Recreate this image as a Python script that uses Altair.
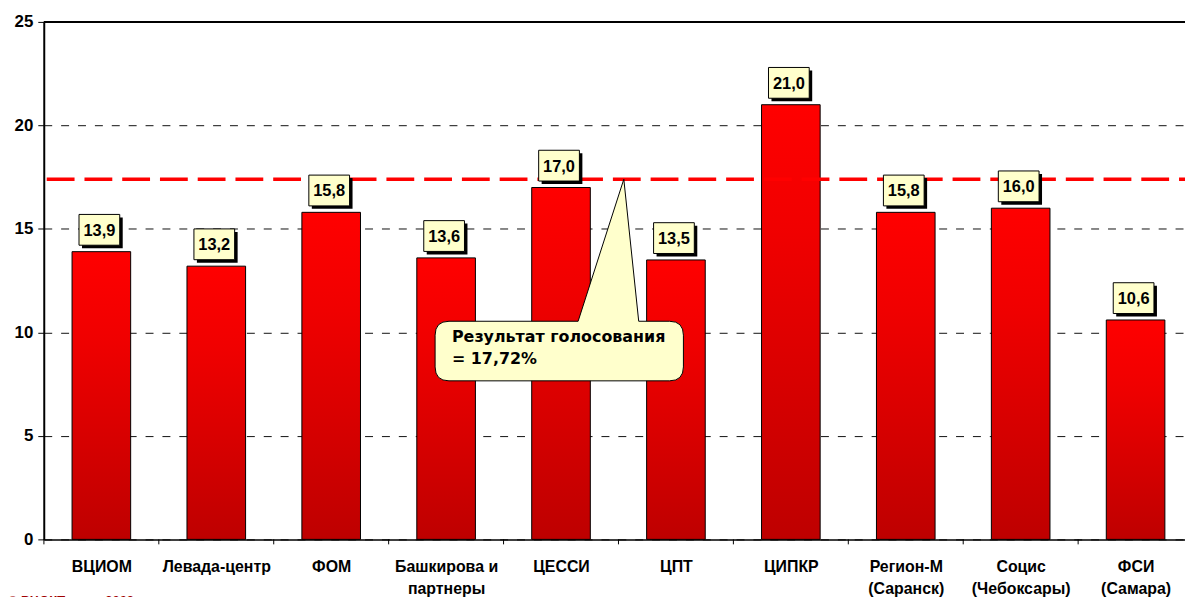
import altair as alt
import pandas as pd

categories = ["ВЦИОМ", "Левада-центр", "ФОМ", "Башкирова и\nпартнеры", "ЦЕССИ",
              "ЦПТ", "ЦИПКР", "Регион-М\n(Саранск)", "Социс\n(Чебоксары)", "ФСИ\n(Самара)"]
values = [13.9, 13.2, 15.8, 13.6, 17.0, 13.5, 21.0, 15.8, 16.0, 10.6]
value_labels = ["13,9", "13,2", "15,8", "13,6", "17,0", "13,5", "21,0", "15,8", "16,0", "10,6"]
y_ticks = [0, 5, 10, 15, 20, 25]
vote_line = [17.4]
callout_text = ["Результат голосования", "= 17,72%"]
footer_text = ["© РЦОКТ, март 2003"]

idx = list(range(len(categories)))
df = pd.DataFrame({"idx": idx, "value": values, "label": value_labels})
bounds_df = pd.DataFrame({"b": [i - 0.5 for i in idx] + [len(idx) - 0.5]})
line_df = pd.DataFrame({"v": vote_line})
foot_df = pd.DataFrame({"t": footer_text})

FONT = "Liberation Sans"
W = 1149
H = 521
# category slots are a little wider than W/10 (the last slot runs past the window edge)
X_DOMAIN = [-0.5013, 9.430]
HALF_BAR = 0.255

cat_js = "[" + ",".join("'" + c.replace("\n", "\\n") + "'" for c in categories) + "]"

x_scale = alt.Scale(domain=X_DOMAIN, nice=False, zero=False, padding=0)
x_axis = alt.Axis(title=None, values=idx, labelAngle=0,
                  labelExpr="split(" + cat_js + "[datum.value], '\\n')",
                  labelFont=FONT, labelFontSize=16, labelFontWeight="bold", labelColor="black",
                  labelPadding=19, labelLineHeight=22, labelBaseline="top",
                  labelOverlap=False, labelFlush=False, labelBound=False, labelLimit=300,
                  ticks=False, domainColor="black", domainWidth=1.5, grid=False)
x_enc = alt.X("idx:Q", scale=x_scale, axis=x_axis)
y_scale = alt.Scale(domain=[0, 25], nice=False, zero=True, padding=0)
y_enc = alt.Y(
    "value:Q", scale=y_scale,
    axis=alt.Axis(title=None, values=y_ticks, labelFont=FONT, labelFontSize=17,
                  labelFontWeight="bold", labelColor="black", labelPadding=5,
                  tickSize=6, tickColor="black", domainColor="black", domainWidth=2,
                  grid=True, gridDash=[8, 9], gridColor="#111111", gridWidth=1),
)

base = alt.Chart(df)

bars = base.transform_calculate(
    x0="datum.idx - " + str(HALF_BAR), x1="datum.idx + " + str(HALF_BAR)
).mark_bar(
    color=alt.Gradient(gradient="linear", x1=0, y1=0, x2=0, y2=1,
                       stops=[alt.GradientStop(color="#FF0000", offset=0),
                              alt.GradientStop(color="#F00000", offset=0.3),
                              alt.GradientStop(color="#BE0000", offset=1)]),
    stroke="black", strokeWidth=1,
).encode(x=alt.X("x0:Q", scale=x_scale, axis=x_axis), x2="x1:Q",
         y=y_enc, y2=alt.datum(0))

bound_ticks = alt.Chart(bounds_df).mark_rule(color="black", strokeWidth=1).encode(
    x=alt.X("b:Q", scale=x_scale, axis=x_axis), y=alt.value(H), y2=alt.value(H + 5))

top_rule = alt.Chart(line_df).mark_rule(color="black", strokeWidth=2).encode(
    y=alt.datum(25), x=alt.value(0), x2=alt.value(W))

red_line = alt.Chart(line_df).mark_rule(color="#FF0000", strokeWidth=3.5,
                                        strokeDash=[28, 10]).encode(
    y="v:Q", x=alt.value(3), x2=alt.value(W))

box_shadow = base.mark_point(
    shape="M-17.5,-12.5L23.5,-12.5L23.5,18.5L-17.5,18.5Z", size=4,
    fill="black", fillOpacity=1, strokeWidth=0, opacity=1, xOffset=-2, yOffset=-22,
).encode(x=x_enc, y=y_enc)

box = base.mark_point(
    shape="M-20.5,-15.5L20.5,-15.5L20.5,15.5L-20.5,15.5Z", size=4,
    fill="#FFFFCC", fillOpacity=1, stroke="black", strokeWidth=1, opacity=1,
    xOffset=-2, yOffset=-22,
).encode(x=x_enc, y=y_enc)

box_text = base.mark_text(
    font=FONT, fontSize=16.5, fontWeight="bold", color="black",
    dx=-2, dy=-21, baseline="middle", align="center",
).encode(x=x_enc, y=y_enc, text="label:N")

callout_path = ("M-176,143L-46,143L0,0L15,143L46,143Q60,143 60,157L60,189"
                "Q60,203 46,203L-176,203Q-190,203 -190,189L-190,157Q-190,143 -176,143Z")
callout = alt.Chart(line_df).mark_point(
    shape=callout_path, size=4, fill="#FFFFCC", fillOpacity=1, stroke="black",
    strokeWidth=1, opacity=1,
).encode(x=alt.value(584), y="v:Q")

callout_label = alt.Chart(line_df).mark_text(
    font="DejaVu Sans", fontSize=16, fontWeight="bold", color="black",
    align="left", baseline="alphabetic", lineHeight=22, dy=164,
).encode(x=alt.value(411), y="v:Q", text=alt.value(callout_text))

footer = alt.Chart(foot_df).mark_text(
    font=FONT, fontSize=13, fontWeight="bold", color="#A00000",
    align="left", baseline="alphabetic",
).encode(x=alt.value(-36), y=alt.value(587), text="t:N")

chart = alt.layer(
    bars, bound_ticks, top_rule, red_line, box_shadow, box, box_text,
    callout, callout_label, footer
).properties(
    width=W, height=H,
    autosize=alt.AutoSizeParams(type="none"),
    padding={"left": 36, "top": 12, "right": 0, "bottom": 56},
    background="white",
).configure_view(stroke=None)

chart.save("out.html", embed_options={"renderer": "svg", "actions": False})
